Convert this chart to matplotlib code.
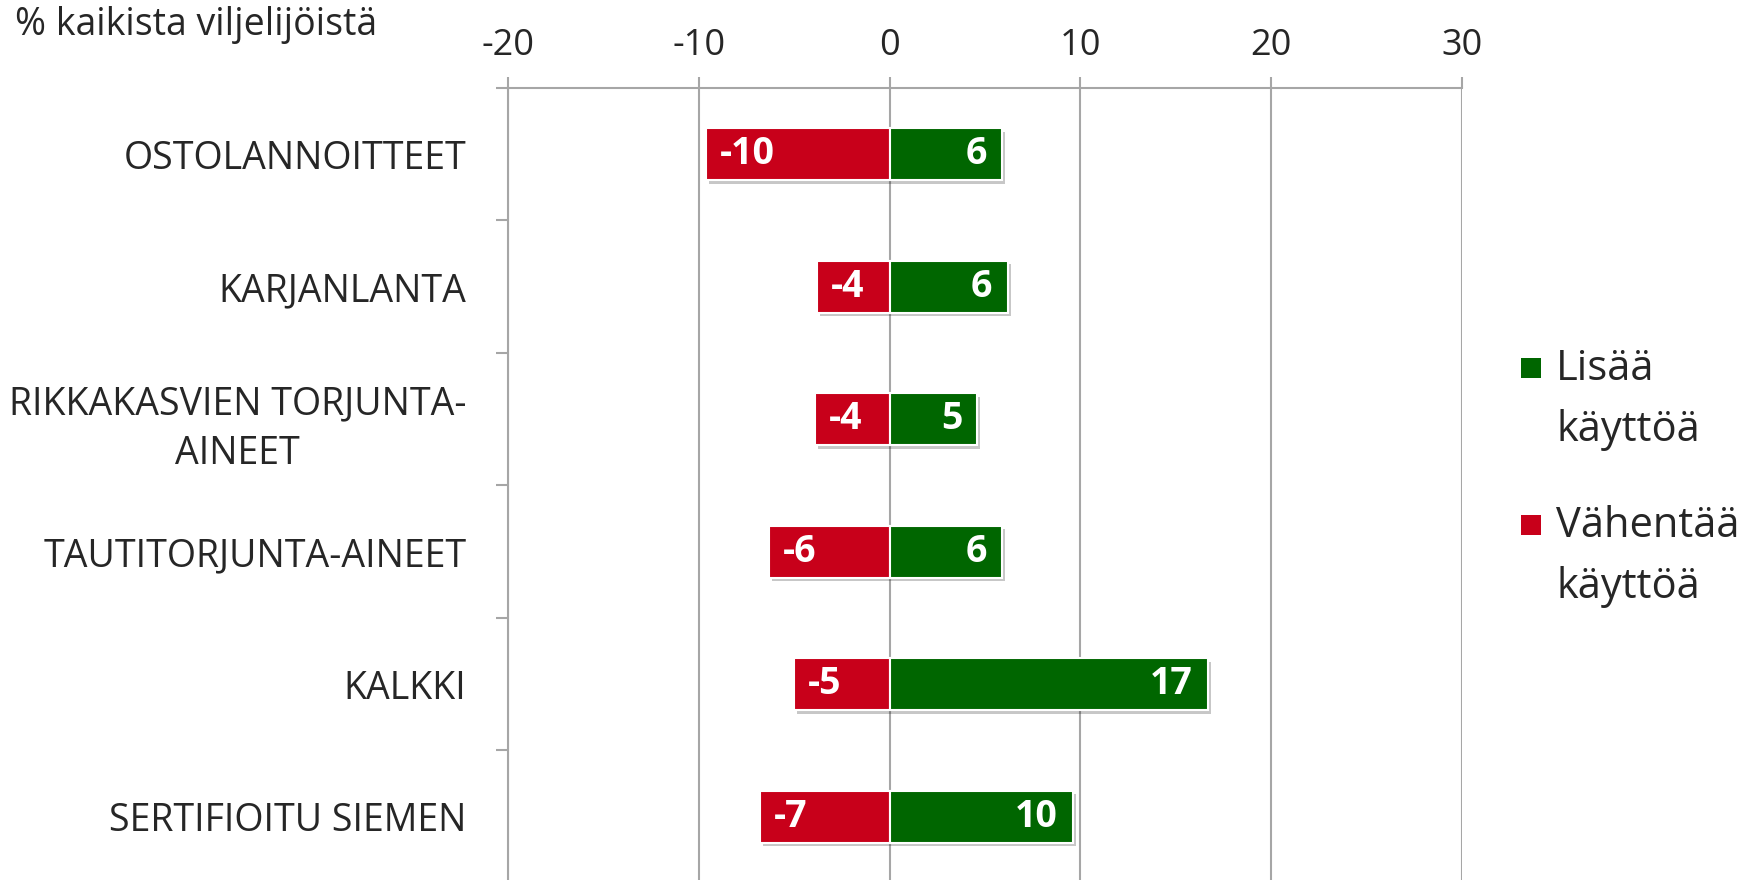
import numpy as np
import matplotlib.pyplot as plt
import matplotlib.patheffects as pe
from matplotlib.patches import Rectangle

plt.rcParams['font.family'] = ['Open Sans', 'DejaVu Sans']
plt.rcParams['axes.unicode_minus'] = False

# Data (% of all farmers)
categories = ['OSTOLANNOITTEET', 'KARJANLANTA', 'RIKKAKASVIEN TORJUNTA-\nAINEET',
              'TAUTITORJUNTA-AINEET', 'KALKKI', 'SERTIFIOITU SIEMEN']
increase = [5.9, 6.2, 4.6, 5.9, 16.7, 9.6]      # Lisää käyttöä
decrease = [-9.6, -3.8, -3.9, -6.3, -5.0, -6.8]  # Vähentää käyttöä
legend_labels = ['Lisää\nkäyttöä', 'Vähentää\nkäyttöä']
xticks = [-20, -10, 0, 10, 20, 30]

green = '#006600'
red = '#C8001A'
grid_col = '#A6A6A6'
text_col = '#262626'

fig = plt.figure(figsize=(17.64, 8.8), dpi=100)
# axes box in pixels: left 508, right 1462, top 88, bottom ~883 (just below figure)
ax = fig.add_axes([508 / 1764, -3 / 880, 954 / 1764, 795 / 880])

y = np.arange(len(categories))
shadow = [pe.withSimplePatchShadow(offset=(2, -2.5), shadow_rgbFace='black', alpha=0.22)]
ax.barh(y, decrease, height=0.39, color=red, edgecolor='white', linewidth=1.5,
        zorder=3, path_effects=shadow)
ax.barh(y, increase, height=0.39, color=green, edgecolor='white', linewidth=1.5,
        zorder=3, path_effects=shadow)

# value labels at the inside end of each bar
for yi, v in zip(y, decrease):
    ax.annotate(f'{round(v):d}', xy=(v, yi), xytext=(10, 0), textcoords='offset points',
                ha='left', va='center', color='white', fontsize=27, fontweight='bold', zorder=4)
for yi, v in zip(y, increase):
    ax.annotate(f'{round(v):d}', xy=(v, yi), xytext=(-11, 0), textcoords='offset points',
                ha='right', va='center', color='white', fontsize=27, fontweight='bold', zorder=4)

ax.set_xlim(-20, 30)
ax.set_ylim(len(categories) - 0.5, -0.5)
ax.set_xticks(xticks)
ax.xaxis.tick_top()
ax.tick_params(axis='x', direction='out', length=8, width=1.5, color=grid_col,
               labelsize=26, labelcolor=text_col, pad=9)
ax.set_yticks(y)
ax.set_yticklabels(categories, linespacing=1.4)
ax.set_yticks(np.arange(-0.5, len(categories), 1.0), minor=True)
ax.tick_params(axis='y', which='major', length=0, labelsize=27, labelcolor=text_col, pad=30)
ax.tick_params(axis='y', which='minor', direction='out', length=9, width=1.5, color=grid_col)
for lab in ax.get_yticklabels():
    lab.set_multialignment('center')

ax.grid(axis='x', color=grid_col, linewidth=1.5, zorder=0)
ax.set_axisbelow(True)
for s in ['right', 'bottom']:
    ax.spines[s].set_visible(False)
for s in ['left', 'top']:
    ax.spines[s].set_color(grid_col)
    ax.spines[s].set_linewidth(1.5)

fig.text(15 / 1764, 1 - 25 / 880, '% kaikista viljelijöistä', fontsize=27,
         color=text_col, ha='left', va='center')

# legend, drawn by hand to match the layout
for i, (lab, col) in enumerate(zip(legend_labels, [green, red])):
    yc = 1 - (368 + i * 157) / 880
    fig.add_artist(Rectangle((1521 / 1764, yc - 10 / 880), 20 / 1764, 20 / 880,
                             transform=fig.transFigure, facecolor=col, edgecolor='none'))
    fig.text(1556 / 1764, yc + 20 / 880, lab, fontsize=30, color=text_col,
             ha='left', va='top', linespacing=1.6)

fig.savefig('out.png', dpi=100)
